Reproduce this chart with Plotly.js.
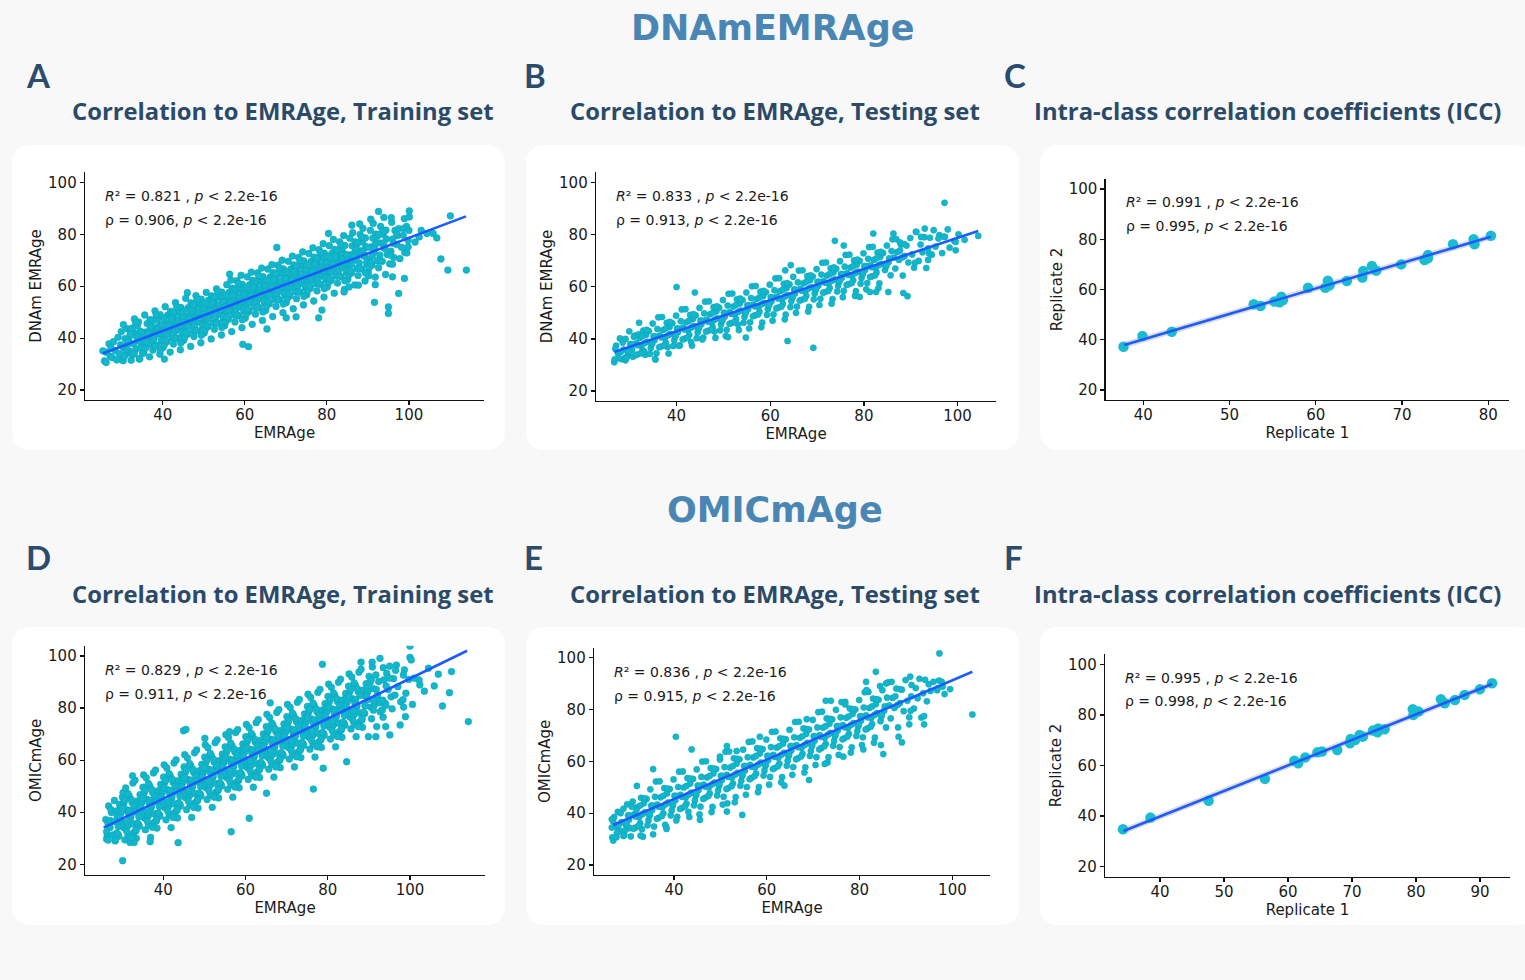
<!DOCTYPE html>
<html><head><meta charset="utf-8">
<script src="https://cdn.plot.ly/plotly-3.0.1.min.js"></script>
<style>html,body{margin:0;padding:0;background:#f8f8f8;}#chart{width:1525px;height:980px;}</style>
</head><body><div id="chart"></div><script>
// ---------------- DATA ----------------
const sectionTitles = ['DNAmEMRAge', 'OMICmAge'];
const panelLetters = ['A', 'B', 'C', 'D', 'E', 'F'];
const panelTitles = ['Correlation to EMRAge, Training set', 'Correlation to EMRAge, Testing set', 'Intra-class correlation coefficients (ICC)',
                     'Correlation to EMRAge, Training set', 'Correlation to EMRAge, Testing set', 'Intra-class correlation coefficients (ICC)'];
const xTitles = ['EMRAge', 'EMRAge', 'Replicate 1', 'EMRAge', 'EMRAge', 'Replicate 1'];
const yTitles = ['DNAm EMRAge', 'DNAm EMRAge', 'Replicate 2', 'OMICmAge', 'OMICmAge', 'Replicate 2'];
const statR2 = ['0.821', '0.833', '0.991', '0.829', '0.836', '0.995'];
const statRho = ['0.906', '0.913', '0.995', '0.911', '0.915', '0.998'];
const statP = '2.2e-16';
const yTicks = [20, 40, 60, 80, 100];
const xTicksAge = [40, 60, 80, 100];
const xTicksC = [40, 50, 60, 70, 80];
const xTicksF = [40, 50, 60, 70, 80, 90];

// Panel A: DNAmEMRAge vs EMRAge, training set  [EMRAge, DNAm EMRAge]
const dnamTrain = [
[25.8,31.2],[26.3,34.5],[26.9,37.8],[27.2,33],[27.4,36.2],
[27.7,32.5],[28,38.6],[28.4,35.2],[28.8,31.6],[29.1,40.3],[29.4,34],[29.7,37.4],[29.9,42.5],
[30.2,31.8],[30.5,36.2],[30.8,39.8],[31,33.9],[31.3,43.6],[31.6,37.9],[31.9,35.1],[32.1,41.4],[32.3,31.5],[30.4,45.2],[31.7,38.9],
[32.6,33.6],[32.9,37.8],[33.2,41.9],[33.5,35.8],[33.8,44.7],[34,39.7],[34.3,31.9],[34.6,42.6],[34.8,36.9],[33.1,47.4],[34.1,46.2],[33.6,40.6],
[35.1,34.2],[35.4,38.4],[35.7,42.3],[35.9,36.5],[36.2,45.6],[36.5,40.1],[36.8,32.8],[37,43.8],[37.3,37.6],[35.6,48.9],[36.9,47.1],[37.4,41.5],[36.1,39.2],
[37.6,35.4],[37.9,39.8],[38.2,43.6],[38.5,37.3],[38.7,47.2],[39,41.6],[39.3,33.8],[39.5,45.1],[39.8,38.9],[38.1,50.5],[39.4,49],[39.9,43],[38.8,44.4],[37.8,41.2],
[40.1,36.4],[40.4,40.9],[40.7,45.3],[41,38.6],[41.2,48.8],[41.5,43.2],[41.8,34.6],[42,46.7],[42.3,40.1],[40.6,52.1],[41.9,50.3],[42.4,44.6],[41.3,42.1],[40.3,47.6],
[42.6,37.7],[42.9,42.4],[43.2,46.8],[43.5,40],[43.7,50.2],[44,44.7],[44.3,35.5],[44.5,48.3],[44.8,41.6],[43.1,53.7],[44.4,51.8],[44.9,46.2],[43.8,43.5],[42.8,49.1],
[45.1,39.2],[45.4,43.8],[45.7,48.3],[46,41.5],[46.2,51.7],[46.5,46.2],[46.8,36.8],[47,49.8],[47.3,43],[45.6,55.3],[46.9,53.6],[47.4,47.6],[46.3,45],[45.3,50.6],[46,57.5],
[47.6,40.6],[47.9,45.3],[48.2,49.8],[48.5,42.9],[48.7,53.2],[49,47.7],[49.3,38.2],[49.5,51.3],[49.8,44.5],[48.1,56.4],[49.4,55],[49.9,49.1],[48.8,46.4],[47.8,52.1],
[50.1,42],[50.4,46.8],[50.7,51.2],[51,44.4],[51.2,54.6],[51.5,49.2],[51.8,39.7],[52,52.8],[52.3,45.9],[50.6,57.6],[51.9,56.3],[52.4,50.6],[51.3,47.9],[50.3,53.5],
[52.6,43.4],[52.9,48.2],[53.2,52.7],[53.5,45.8],[53.7,56.1],[54,50.7],[54.3,41.2],[54.5,54.3],[54.8,47.4],[53.1,59],[54.4,57.7],[54.9,52.1],[53.8,49.3],[52.8,55],
[55.1,44.8],[55.4,49.7],[55.7,54.2],[56,47.3],[56.2,57.6],[56.5,52.2],[56.8,42.5],[57,55.8],[57.3,48.9],[55.6,60.6],[56.9,59.2],[57.4,53.6],[56.3,50.8],[55.3,56.5],[56.6,62.3],
[57.6,46.2],[57.9,51.1],[58.2,55.7],[58.5,48.7],[58.7,59.1],[59,53.7],[59.3,44],[59.5,57.3],[59.8,50.4],[58.1,62.1],[59.4,60.7],[59.9,55.1],[58.8,52.3],[57.8,58],[59.1,64.2],
[60.1,47.7],[60.4,52.6],[60.7,57.2],[61,50.2],[61.2,60.6],[61.5,55.2],[61.8,45.3],[62,58.8],[62.3,51.9],[60.6,63.6],[61.9,62.2],[62.4,56.6],[61.3,53.8],[60.3,59.5],[61.6,65.4],
[62.6,49.2],[62.9,54.1],[63.2,58.7],[63.5,51.7],[63.7,62.1],[64,56.7],[64.3,46.8],[64.5,60.3],[64.8,53.4],[63.1,65.1],[64.4,63.7],[64.9,58.1],[63.8,55.3],[62.8,61],[64.1,67],
[65.1,50.7],[65.4,55.6],[65.7,60.2],[66,53.2],[66.2,63.6],[66.5,58.2],[66.8,48.3],[67,61.8],[67.3,54.9],[65.6,66.6],[66.9,65.2],[67.4,59.6],[66.3,56.8],[65.3,62.5],[66.6,68.3],
[67.6,52.2],[67.9,57.1],[68.2,61.7],[68.5,54.7],[68.7,65.1],[69,59.7],[69.3,49.8],[69.5,63.3],[69.8,56.4],[68.1,68.1],[69.4,66.7],[69.9,61.1],[68.8,58.3],[67.8,64],[69.1,70],
[70.1,53.7],[70.4,58.6],[70.7,63.2],[71,56.2],[71.2,66.6],[71.5,61.2],[71.8,51.3],[72,64.8],[72.3,57.9],[70.6,69.6],[71.9,68.2],[72.4,62.6],[71.3,59.8],[70.3,65.5],[71.6,71.6],
[72.6,55.2],[72.9,60.1],[73.2,64.7],[73.5,57.7],[73.7,68.1],[74,62.7],[74.3,52.8],[74.5,66.3],[74.8,59.4],[73.1,71.1],[74.4,69.7],[74.9,64.1],[73.8,61.3],[72.8,67],[74.1,73.2],
[75.1,56.7],[75.4,61.6],[75.7,66.2],[76,59.2],[76.2,69.6],[76.5,64.2],[76.8,54.3],[77,67.8],[77.3,60.9],[75.6,72.6],[76.9,71.2],[77.4,65.6],[76.3,62.8],[75.3,68.5],[76.6,74.8],
[77.6,58.2],[77.9,63.1],[78.2,67.7],[78.5,60.7],[78.7,71.1],[79,65.7],[79.3,55.8],[79.5,69.3],[79.8,62.4],[78.1,74.1],[79.4,72.7],[79.9,67.1],[78.8,64.3],[77.8,70],[79.1,76.4],
[80.1,59.7],[80.4,64.6],[80.7,69.2],[81,62.2],[81.2,72.6],[81.5,67.2],[81.8,57.3],[82,70.8],[82.3,63.9],[80.6,75.6],[81.9,74.2],[82.4,68.6],[81.3,65.8],[80.3,71.5],[81.6,78],
[82.6,61.2],[82.9,66.1],[83.2,70.7],[83.5,63.7],[83.7,74.1],[84,68.7],[84.3,58.8],[84.5,72.3],[84.8,65.4],[83.1,77.1],[84.4,75.7],[84.9,70.1],[83.8,67.3],[82.8,73],[84.1,79.5],
[85.1,62.6],[85.4,67.5],[85.7,72.1],[86,65.1],[86.2,75.5],[86.5,70.1],[86.8,60.5],[87,73.7],[87.3,66.8],[85.6,78.5],[86.9,77.1],[87.4,71.5],[86.3,80.6],
[87.6,64.1],[87.9,69],[88.2,73.6],[88.5,66.6],[88.7,77],[89,71.6],[89.3,62],[89.5,75.2],[89.8,68.3],[88.1,80],[89.4,78.6],[88.8,82.3],
[90.1,65.6],[90.4,70.5],[90.7,75.1],[91,68.1],[91.2,78.5],[91.5,73.1],[91.8,63.5],[92,76.7],[92.3,69.8],[90.6,81.5],[91.9,80.1],[91.3,84.2],
[92.6,67.1],[92.9,72],[93.2,76.6],[93.5,69.6],[93.7,80],[94,74.6],[94.3,64.5],[94.5,78.2],[93.1,83],[94.4,81.6],[93.9,86.5],
[95.3,68.6],[95.6,73.5],[96,78.1],[96.3,71.1],[96.6,81.5],[97,76.1],[95.8,84.6],[97.2,79.5],
[97.8,70.6],[98.2,75],[98.6,79.6],[99,73],[99.4,83],[99.8,77.6],[98.9,86],
[110.1,87.1],[114,66.2],[109.5,66.2],[107.8,70.5],[106.8,78.6],[104.4,80.3],[105.9,80.3],[97.5,57.2],[98.9,63],[95,52],[95,49.5],[91.6,53.8],
[92.6,88.8],[100.1,89],[100.1,86.7],[95.7,86.4],[90.7,85.8],[86.1,83.5],[88,84],[80.4,80.3],[67.8,74.9],[78,47.8],[78.8,50.8],[60.9,36.7],
[59.5,37.6],[56.3,64.6],[40.4,31.9],[26.2,30.6],[25.4,35.1],[72.5,48.2],[70.1,47.8],[65.4,43.5],[84.2,57.8],[85.4,59.7],[87.7,60.4],[90.2,64],
[91.8,60.6],[96,63.6],[96,68.5],[99.5,72.8],[99.8,75.1],[101.5,77],[97.5,82.2],[98.7,82.2],[100,81.5],[93.6,81],[102.5,79],[103,81.5]
];
// Panel A, additional points in the dense core of the cloud
const dnamTrainCore = [
[30.35,31.3],[31.05,35.6],[31.75,39.8],[32.3,43.2],[30.7,33],[31.45,38.5],[32.1,41.5],[30.15,37],
[33.1,33.9],[33.8,40.6],[34.7,36.2],[32.6,43.9],[34.4,32.1],[33.4,46],[34.1,38.9],[34.9,42],
[35.35,34.3],[36.05,38.6],[36.75,42.8],[37.3,46.2],[35.7,36],[36.45,41.5],[37.1,44.5],[35.15,40],
[38.1,36.9],[38.8,43.6],[39.7,39.2],[37.6,46.9],[39.4,35.1],[38.4,49],[39.1,41.9],[39.9,45],
[40.35,37.3],[41.05,41.6],[41.75,45.8],[42.3,49.2],[40.7,39],[41.45,44.5],[42.1,47.5],[40.15,43],
[43.1,39.9],[43.8,46.6],[44.7,42.2],[42.6,49.9],[44.4,38.1],[43.4,52],[44.1,44.9],[44.9,48],
[45.35,40.3],[46.05,44.6],[46.75,48.8],[47.3,52.2],[45.7,42],[46.45,47.5],[47.1,50.5],[45.15,46],
[48.1,42.9],[48.8,49.6],[49.7,45.2],[47.6,52.9],[49.4,41.1],[48.4,55],[49.1,47.9],[49.9,51],
[50.35,43.3],[51.05,47.6],[51.75,51.8],[52.3,55.2],[50.7,45],[51.45,50.5],[52.1,53.5],[50.15,49],
[53.1,45.9],[53.8,52.6],[54.7,48.2],[52.6,55.9],[54.4,44.1],[53.4,58],[54.1,50.9],[54.9,54],
[55.35,46.3],[56.05,50.6],[56.75,54.8],[57.3,58.2],[55.7,48],[56.45,53.5],[57.1,56.5],[55.15,52],
[58.1,48.9],[58.8,55.6],[59.7,51.2],[57.6,58.9],[59.4,47.1],[58.4,61],[59.1,53.9],[59.9,57],
[60.35,49.3],[61.05,53.6],[61.75,57.8],[62.3,61.2],[60.7,51],[61.45,56.5],[62.1,59.5],[60.15,55],
[63.1,51.9],[63.8,58.6],[64.7,54.2],[62.6,61.9],[64.4,50.1],[63.4,64],[64.1,56.9],[64.9,60],
[65.35,52.3],[66.05,56.6],[66.75,60.8],[67.3,64.2],[65.7,54],[66.45,59.5],[67.1,62.5],[65.15,58],
[68.1,54.9],[68.8,61.6],[69.7,57.2],[67.6,64.9],[69.4,53.1],[68.4,67],[69.1,59.9],[69.9,63],
[70.35,55.3],[71.05,59.6],[71.75,63.8],[72.3,67.2],[70.7,57],[71.45,62.5],[72.1,65.5],[70.15,61],
[73.1,57.9],[73.8,64.6],[74.7,60.2],[72.6,67.9],[74.4,56.1],[73.4,70],[74.1,62.9],[74.9,66],
[75.35,58.3],[76.05,62.6],[76.75,66.8],[77.3,70.2],[75.7,60],[76.45,65.5],[77.1,68.5],[75.15,64],
[78.1,60.9],[78.8,67.6],[79.7,63.2],[77.6,70.9],[79.4,59.1],[78.4,73],[79.1,65.9],[79.9,69],
[80.35,61.3],[81.05,65.6],[81.75,69.8],[82.3,73.2],[80.7,63],[81.45,68.5],[82.1,71.5],[80.15,67],
[83.1,63.9],[83.8,70.6],[84.7,66.2],[82.6,73.9],[84.4,62.1],[83.4,76],[84.1,68.9],[84.9,72],
[85.35,64.3],[86.05,68.6],[86.75,72.8],[87.3,76.2],[85.7,66],[86.45,71.5],[87.1,74.5],[85.15,70],
[88.1,66.9],[88.8,73.6],[89.7,69.2],[87.6,76.9],[89.4,65.1],[88.4,79],[89.1,71.9],[89.9,75],
[90.35,67.3],[91.05,71.6],[91.75,75.8],[92.3,79.2],[90.7,69],[91.45,74.5],
[93.1,69.9],[93.8,76.6],[94.7,72.2],[92.6,79.9],[94.1,74.9],
[95.4,72],[96.2,76.5],[97,80]
];
const dnamTrainFitX = [25.4, 113.9];
const dnamTrainFitY = [34.1, 86.9];

// Panel B: DNAmEMRAge vs EMRAge, testing set
const dnamTest = [
[26.7,31.1],[27.1,37.4],[27.5,34.4],[27.9,40.2],[28.3,32.2],[28.7,35.9],[26.9,36.2],[27.7,32.6],[28.5,38.6],[28.1,35],
[29.1,40],[29.5,33.5],[29.9,42.9],[30.3,36.6],[30.7,33.2],[31.1,41.3],[31.4,38.3],[29.7,34.9],[30.5,35.8],[30.1,38],
[31.7,34.1],[32.1,40.4],[32.5,37.4],[32.9,43.2],[33.3,33.9],[33.7,38.9],[31.9,41.8],[32.7,35.6],[33.5,41.6],[33.1,35.2],
[34.1,43],[34.5,36.5],[34.9,45.9],[35.3,39.6],[35.7,34.5],[36.1,48.3],[36.4,41.3],[34.7,37.9],[35.5,32.1],[35.1,41],
[36.7,37.1],[37.1,43.4],[37.5,40.4],[37.9,46.2],[38.3,34.4],[38.7,41.9],[36.9,48.4],[37.7,38.6],[38.5,44.6],[38.1,36.9],
[39.1,46],[39.5,39.5],[39.9,48.9],[40.3,42.6],[40.7,37.5],[41.1,51.3],[41.4,44.3],[39.7,40.9],[40.5,37.4],[40.1,44],
[41.7,40.1],[42.1,46.4],[42.5,43.4],[42.9,49.2],[43.3,37.4],[43.7,44.9],[41.9,51.4],[42.7,41.6],[43.5,47.6],[43.1,38.8],
[44.1,49],[44.5,42.5],[44.9,51.9],[45.3,45.6],[45.7,40.5],[46.1,54.3],[46.4,47.3],[44.7,43.9],[45.5,39.8],[45.1,47],
[46.7,43.1],[47.1,49.4],[47.5,46.4],[47.9,52.2],[48.3,40.4],[48.7,47.9],[46.9,54.4],[47.7,44.6],[48.5,50.6],[48.1,42.8],
[49.1,52],[49.5,45.5],[49.9,54.9],[50.3,48.6],[50.7,43.5],[51.1,57.3],[51.4,50.3],[49.7,46.9],[50.5,41.1],[50.1,50],
[51.7,46.1],[52.1,52.4],[52.5,49.4],[52.9,55.2],[53.3,43.4],[53.7,50.9],[51.9,57.4],[52.7,47.6],[53.5,53.6],[53.1,45.5],
[54.1,54.9],[54.5,48.4],[54.9,57.8],[55.3,51.5],[55.7,46.4],[56.1,60.2],[56.4,53.2],[54.7,49.8],[55.5,44],[55.1,52.9],
[56.7,49],[57.1,55.3],[57.5,52.3],[57.9,58.1],[58.3,46.3],[58.7,53.8],[56.9,60.3],[57.7,50.5],[58.5,56.5],[58.1,44.5],
[59.1,57.9],[59.5,51.4],[59.9,60.8],[60.3,54.5],[60.7,49.4],[61.1,63.2],[61.4,56.2],[59.7,52.8],[60.5,47],[60.1,55.9],
[61.7,52],[62.1,58.3],[62.5,55.3],[62.9,61.1],[63.3,49.3],[63.7,56.8],[61.9,63.3],[62.7,53.5],[63.5,59.5],[63.1,47.5],
[64.1,60.9],[64.5,54.4],[64.9,63.8],[65.3,57.5],[65.7,52.4],[66.1,66.2],[66.4,59.2],[64.7,55.8],[65.5,50],[65.1,58.9],
[66.7,55],[67.1,61.3],[67.5,58.3],[67.9,64.1],[68.3,52.3],[68.7,59.8],[66.9,66.3],[67.7,56.5],[68.5,62.5],[68.1,50.5],
[69.1,63.9],[69.5,57.4],[69.9,66.8],[70.3,60.5],[70.7,55.4],[71.1,69.2],[71.4,62.2],[69.7,58.8],[70.5,53],[70.1,61.9],
[71.7,58],[72.1,64.3],[72.5,61.3],[72.9,67.1],[73.3,55.3],[73.7,62.8],[71.9,69.3],[72.7,59.5],[73.5,65.5],[73.1,53.5],
[74.1,66.9],[74.5,60.4],[74.9,69.8],[75.3,63.5],[75.7,58.4],[76.1,72.2],[76.4,65.2],[74.7,61.8],[75.5,56],[75.1,64.9],
[76.7,61],[77.1,67.3],[77.5,64.3],[77.9,70.1],[78.3,58.3],[78.7,65.8],[76.9,72.3],[77.7,62.5],[78.5,68.5],[78.1,56.5],
[79.1,69.9],[79.5,63.4],[79.9,72.8],[80.3,66.5],[80.7,61.4],[81.1,75.2],[81.4,68.2],[79.7,64.8],[80.5,59],[80.1,67.9],
[81.7,64],[82.1,70.3],[82.5,67.3],[82.9,73.1],[83.3,61.3],[83.7,68.8],[81.9,75.3],[82.7,65.5],[83.5,71.5],[83.1,59.5],
[84.1,72.9],[84.5,66.4],[84.9,75.8],[85.3,69.5],[85.7,64.4],[86.1,78.2],[86.4,71.2],[84.7,67.8],
[86.7,67],[87.1,73.3],[87.5,70.3],[87.9,76.1],[88.3,64.3],[88.7,71.8],[86.9,78.3],
[89.1,75.8],[89.5,69.3],[89.9,78.7],[90.3,72.4],[90.7,67.3],[91.1,81.1],
[91.7,69.9],[92.1,76.2],[92.5,73.2],[92.9,79],[93.3,67.2],[93.7,74.7],
[94.1,78.8],[94.5,72.3],[94.9,81.7],[95.3,75.4],[96.1,79.8],
[96.7,72.9],[97.1,79.2],[97.9,82],[98.3,75],[99.3,77.5],[100.2,80.1],[101.5,78],
[97.2,92.2],[69.2,36.6],[63.7,39.2],[40,59.9],[43.9,57.8],[93,82.3],[99.6,74],[99.6,77.2],[104.4,79.5],[89.3,56.4],[88.4,57.6],[85.2,58],
[79.1,56.1],[81.3,58],[82.6,58],[73.8,77.6],[75.7,75.8],[51,40.7],[54.8,40.5],[32,46.2],[26.8,32.2],[29.1,31.8],[29,32.7],[35.4,32.4],
[93.7,70.3],[93.9,72.8],[90.9,69.2],[87.7,77],[82,80.4],[86.3,80.4],[91.2,81],[92.2,79.1],[64.4,68.3],[63.2,66.3],[95.9,78.5],[97.3,79.1]
];
const dnamTestCore = [
[29.8,35.2],[30.9,40.8],[29.3,32.6],[30.4,38],[31.3,33.8],
[32.7,41],[31.7,37.6],[33.6,43.5],[32.4,34.5],[33.2,38.4],
[34.8,38.2],[35.9,43.8],[34.3,34.3],[35.4,41],[36.3,36.8],
[37.7,44],[36.7,40.6],[38.6,46.5],[37.4,37.5],[38.2,41.4],
[39.8,41.2],[40.9,46.8],[39.3,37.3],[40.4,44],[41.3,39.8],
[42.7,47],[41.7,43.6],[43.6,49.5],[42.4,40.5],[43.2,44.4],
[44.8,44.2],[45.9,49.8],[44.3,40.3],[45.4,47],[46.3,42.8],
[47.7,50],[46.7,46.6],[48.6,52.5],[47.4,43.5],[48.2,47.4],
[49.8,47.2],[50.9,52.8],[49.3,43.3],[50.4,50],[51.3,45.8],
[52.7,53],[51.7,49.6],[53.6,55.5],[52.4,46.5],[53.2,50.4],
[54.8,50.1],[55.9,55.7],[54.3,46.2],[55.4,52.9],[56.3,48.7],
[57.7,55.9],[56.7,52.5],[58.6,58.4],[57.4,49.4],[58.2,53.3],
[59.8,53.1],[60.9,58.7],[59.3,49.2],[60.4,55.9],[61.3,51.7],
[62.7,58.9],[61.7,55.5],[63.6,61.4],[62.4,52.4],[63.2,56.3],
[64.8,56.1],[65.9,61.7],[64.3,52.2],[65.4,58.9],[66.3,54.7],
[67.7,61.9],[66.7,58.5],[68.6,64.4],[67.4,55.4],[68.2,59.3],
[69.8,59.1],[70.9,64.7],[69.3,55.2],[70.4,61.9],[71.3,57.7],
[72.7,64.9],[71.7,61.5],[73.6,67.4],[72.4,58.4],[73.2,62.3],
[74.8,62.1],[75.9,67.7],[74.3,58.2],[75.4,64.9],[76.3,60.7],
[77.7,67.9],[76.7,64.5],[78.6,70.4],[77.4,61.4],[78.2,65.3],
[79.8,65.1],[80.9,70.7],[79.3,61.2],[80.4,67.9],[81.3,63.7],
[82.7,70.9],[81.7,67.5],[83.6,73.4],[82.4,64.4],[83.2,68.3],
[84.8,68.1],[85.9,73.7],[85.4,70.9],
[87.7,73.9],[88.6,76.4],[88.2,71.3]
];
const dnamTestFitX = [26.7, 104.4];
const dnamTestFitY = [35.0, 81.4];

// Panel C: DNAmEMRAge replicates
const dnamICC = [
[37.7,37.2],[39.9,41.5],[43.3,43.2],[52.8,54.1],[53.6,53.4],[55.2,55.2],[55.8,54.9],[56,57.1],[56.2,55.8],[59.1,60.7],[61.1,60.7],[61.4,63.5],[61.6,61.7],
[63.6,63.4],[65.4,64.8],[65.5,67.4],[66.5,69.4],[67,67.5],[69.9,70],[72.6,71.7],[73,73.7],[73,72.4],[75.9,78],[78.3,80],[78.4,78],[80.3,81.4]
];
const dnamICCFitX = [37.8, 80.3];
const dnamICCFitY = [37.9, 81.0];

// Panel D: OMICmAge vs EMRAge, training set
const omicTrain = [
[26,37.2],[26.35,30.9],[26.7,42.4],[27.05,34.1],[27.4,39.9],[27.75,31.3],[26.2,32.5],[26.55,35.7],[27.25,41],[27.1,36.8],
[28.3,29],[28.65,40.5],[29,31.5],[29.35,43],[29.7,36.8],[30.05,45.8],[30.4,34],[28.1,44.5],[28.8,38.5],[29.15,30.8],[29.5,41],[29.85,35.2],[30.2,47.5],
[30.65,29.4],[31,41],[31.35,34.7],[31.7,46.2],[32.05,37.9],[32.4,43.7],[32.75,32.1],[30.85,49.3],[31.2,36.3],[31.55,39.5],[31.9,28.4],[32.25,44.8],[32.6,51.2],[31.45,31.2],
[33.3,32.8],[33.65,44.3],[34,35.3],[34.35,46.8],[34.7,40.6],[35.05,49.6],[35.4,37.8],[33.1,52.3],[33.45,30],[33.8,42.3],[34.15,34.6],[34.5,44.8],[34.85,39],[35.2,54.3],
[35.65,33.3],[36,44.9],[36.35,38.6],[36.7,50.1],[37.05,41.8],[37.4,47.6],[37.75,36],[35.85,53.2],[36.2,40.2],[36.55,43.4],[36.9,30.3],[37.25,48.7],[37.6,55.1],[36.45,35.1],
[38.3,36.7],[38.65,48.2],[39,39.2],[39.35,50.7],[39.7,44.5],[40.05,53.5],[40.4,41.7],[38.1,56.2],[38.45,33.9],[38.8,46.2],[39.15,38.5],[39.5,48.7],[39.85,42.9],[40.2,58.2],
[40.65,37.1],[41,48.7],[41.35,42.4],[41.7,53.9],[42.05,45.6],[42.4,51.4],[42.75,39.8],[40.85,57],[41.2,44],[41.55,47.2],[41.9,34.1],[42.25,52.5],[42.6,58.9],[41.45,38.9],
[43.3,40.6],[43.65,52.1],[44,43.1],[44.35,54.6],[44.7,48.4],[45.05,57.4],[45.4,45.6],[43.1,60.1],[43.45,37.8],[43.8,50.1],[44.15,42.4],[44.5,52.6],[44.85,46.8],[45.2,62.1],
[45.65,41],[46,52.6],[46.35,46.3],[46.7,57.8],[47.05,49.5],[47.4,55.3],[47.75,43.7],[45.85,60.9],[46.2,47.9],[46.55,51.1],[46.9,38],[47.25,56.4],[47.6,62.8],[46.45,42.8],
[48.3,44.4],[48.65,55.9],[49,46.9],[49.35,58.4],[49.7,52.2],[50.05,61.2],[50.4,49.4],[48.1,63.9],[48.45,41.6],[48.8,53.9],[49.15,46.2],[49.5,56.4],[49.85,50.6],[50.2,65.9],
[50.65,44.9],[51,56.5],[51.35,50.2],[51.7,61.7],[52.05,53.4],[52.4,59.2],[52.75,47.6],[50.85,64.8],[51.2,51.8],[51.55,55],[51.9,41.9],[52.25,60.3],[52.6,66.7],[51.45,46.7],
[53.3,48.3],[53.65,59.8],[54,50.8],[54.35,62.3],[54.7,56.1],[55.05,65.1],[55.4,53.3],[53.1,67.8],[53.45,45.5],[53.8,57.8],[54.15,50.1],[54.5,60.3],[54.85,54.5],[55.2,69.8],
[55.65,48.8],[56,60.4],[56.35,54.1],[56.7,65.6],[57.05,57.3],[57.4,63.1],[57.75,51.5],[55.85,68.7],[56.2,55.7],[56.55,58.9],[56.9,45.8],[57.25,64.2],[57.6,70.6],[56.45,50.6],
[58.3,52.2],[58.65,63.7],[59,54.7],[59.35,66.2],[59.7,60],[60.05,69],[60.4,57.2],[58.1,71.7],[58.45,49.4],[58.8,61.7],[59.15,54],[59.5,64.2],[59.85,58.4],[60.2,73.7],
[60.65,52.6],[61,64.2],[61.35,57.9],[61.7,69.4],[62.05,61.1],[62.4,66.9],[62.75,55.3],[60.85,72.5],[61.2,59.5],[61.55,62.7],[61.9,49.6],[62.25,68],[62.6,74.4],[61.45,54.4],
[63.3,56.1],[63.65,67.6],[64,58.6],[64.35,70.1],[64.7,63.9],[65.05,72.9],[65.4,61.1],[63.1,75.6],[63.45,53.3],[63.8,65.6],[64.15,57.9],[64.5,68.1],[64.85,62.3],[65.2,77.6],
[65.65,56.5],[66,68.1],[66.35,61.8],[66.7,73.3],[67.05,65],[67.4,70.8],[67.75,59.2],[65.85,76.4],[66.2,63.4],[66.55,66.6],[66.9,53.5],[67.25,71.9],[67.6,78.3],[66.45,58.3],
[68.3,59.9],[68.65,71.4],[69,62.4],[69.35,73.9],[69.7,67.7],[70.05,76.7],[70.4,64.9],[68.1,79.4],[68.45,57.1],[68.8,69.4],[69.15,61.7],[69.5,71.9],[69.85,66.1],[70.2,81.4],
[70.65,60.4],[71,72],[71.35,65.7],[71.7,77.2],[72.05,68.9],[72.4,74.7],[72.75,63.1],[70.85,80.3],[71.2,67.3],[71.55,70.5],[71.9,57.4],[72.25,75.8],[72.6,82.2],[71.45,62.2],
[73.3,63.8],[73.65,75.3],[74,66.3],[74.35,77.8],[74.7,71.6],[75.05,80.6],[75.4,68.8],[73.1,83.3],[73.45,61],[73.8,73.3],[74.15,65.6],[74.5,75.8],[74.85,70],[75.2,85.3],
[75.65,64.2],[76,75.8],[76.35,69.5],[76.7,81],[77.05,72.7],[77.4,78.5],[77.75,66.9],[75.85,84.1],[76.2,71.1],[76.55,74.3],[76.9,61.2],[77.25,79.6],[77.6,86],[76.45,66],
[78.3,67.7],[78.65,79.2],[79,70.2],[79.35,81.7],[79.7,75.5],[80.05,84.5],[80.4,72.7],[78.1,87.2],[78.45,64.9],[78.8,77.2],[79.15,69.5],[79.5,79.7],[79.85,73.9],[80.2,89.2],
[80.65,68.1],[81,79.7],[81.35,73.4],[81.7,84.9],[82.05,76.6],[82.4,82.4],[82.75,70.8],[80.85,88],[81.2,75],[81.55,78.2],[81.9,65.1],[82.25,83.5],[82.6,89.9],[81.45,69.9],
[83.3,71.6],[83.65,83.1],[84,74.1],[84.35,85.6],[84.7,79.4],[85.05,88.4],[85.4,76.6],[83.1,91.1],[83.45,68.8],[83.8,81.1],[84.15,73.4],[84.5,83.6],[84.85,77.8],[85.2,93.1],
[85.65,72],[86,83.6],[86.35,77.3],[86.7,88.8],[87.05,80.5],[87.4,86.3],[87.75,74.7],[85.85,91.9],[86.2,78.9],[86.55,82.1],[86.9,69],[87.25,87.4],[87.6,93.8],[86.45,73.8],
[88.3,75.4],[88.65,86.9],[89,77.9],[89.35,89.4],[89.7,83.2],[90.05,92.2],[90.4,80.4],[88.1,94.9],[88.45,72.6],[88.8,84.9],[89.5,87.4],
[90.65,75.9],[91,87.5],[91.35,81.2],[91.7,92.7],[92.05,84.4],[92.4,90.2],[92.75,78.6],[90.85,95.8],[91.2,82.8],[91.9,72.9],
[93.3,79.3],[93.65,90.8],[94,81.8],[94.35,93.3],[94.7,87.1],[95.05,96.1],[95.4,84.3],[93.45,76.5],[94.15,81.1],
[95.65,79.7],[96,91.3],[96.35,85],[96.7,96.5],[97.05,88.2],[97.75,82.4],
[98.3,83.2],[98.65,94.7],[99,85.7],[99.7,91],[98.45,80.4],
[30.1,21.4],[43.6,28.3],[56.5,32.5],[60.9,37.7],[32.9,28.4],[36.8,28.7],[26.2,29.7],[26.6,29.3],[76.5,48.9],[78.9,56.9],[84.6,59.4],[65.1,47.3],
[114.2,74.8],[109.6,85.9],[107.9,80.8],[110.1,94],[106.9,93],[105.9,88.5],[100,103.8],[100,99.5],[100.3,98.5],[92.7,99.1],[90.8,97.6],[88.1,97.6],
[78.7,96.8],[100.6,81.4],[98.9,76.7],[97.6,73.5],[95.1,69.7],[94.1,72.9],[91.7,69],[89.9,69],[44.9,71.3],[45.5,71.8],[56.1,70.9],[50.1,68.4],
[32.5,54],[30.3,43.4],[66,82],[102.4,88.9],[102.2,90.8],[104.5,95.3],[98.4,92.7],[96.5,94.5],[93.5,95.5],[101,91.5],[103.5,86.5]
];
const omicTrainCore = [
[28.35,29.5],[29.05,34.5],[29.75,39.8],[30.3,43.5],[28.7,32],[29.45,38.2],[30.1,41.6],[28.15,36.4],
[31.1,32.7],[31.8,40.7],[32.7,35.5],[30.6,44.5],[32.4,30.3],[31.4,47.1],[32.1,38.6],[32.9,42.3],
[33.35,33.3],[34.05,38.3],[34.75,43.6],[35.3,47.3],[33.7,35.8],[34.45,42],[35.1,45.4],[33.15,40.2],
[36.1,36.6],[36.8,44.6],[37.7,39.4],[35.6,48.4],[37.4,34.2],[36.4,51],[37.1,42.5],[37.9,46.2],
[38.35,37.2],[39.05,42.2],[39.75,47.5],[40.3,51.2],[38.7,39.7],[39.45,45.9],[40.1,49.3],[38.15,44.1],
[41.1,40.4],[41.8,48.4],[42.7,43.2],[40.6,52.2],[42.4,38],[41.4,54.8],[42.1,46.3],[42.9,50],
[43.35,41.1],[44.05,46.1],[44.75,51.4],[45.3,55.1],[43.7,43.6],[44.45,49.8],[45.1,53.2],[43.15,48],
[46.1,44.3],[46.8,52.3],[47.7,47.1],[45.6,56.1],[47.4,41.9],[46.4,58.7],[47.1,50.2],[47.9,53.9],
[48.35,44.9],[49.05,49.9],[49.75,55.2],[50.3,58.9],[48.7,47.4],[49.45,53.6],[50.1,57],[48.15,51.8],
[51.1,48.2],[51.8,56.2],[52.7,51],[50.6,60],[52.4,45.8],[51.4,62.6],[52.1,54.1],[52.9,57.8],
[53.35,48.8],[54.05,53.8],[54.75,59.1],[55.3,62.8],[53.7,51.3],[54.45,57.5],[55.1,60.9],[53.15,55.7],
[56.1,52.1],[56.8,60.1],[57.7,54.9],[55.6,63.9],[57.4,49.7],[56.4,66.5],[57.1,58],[57.9,61.7],
[58.35,52.7],[59.05,57.7],[59.75,63],[60.3,66.7],[58.7,55.2],[59.45,61.4],[60.1,64.8],[58.15,59.6],
[61.1,55.9],[61.8,63.9],[62.7,58.7],[60.6,67.7],[62.4,53.5],[61.4,70.3],[62.1,61.8],[62.9,65.5],
[63.35,56.6],[64.05,61.6],[64.75,66.9],[65.3,70.6],[63.7,59.1],[64.45,65.3],[65.1,68.7],[63.15,63.5],
[66.1,59.8],[66.8,67.8],[67.7,62.6],[65.6,71.6],[67.4,57.4],[66.4,74.2],[67.1,65.7],[67.9,69.4],
[68.35,60.4],[69.05,65.4],[69.75,70.7],[70.3,74.4],[68.7,62.9],[69.45,69.1],[70.1,72.5],[68.15,67.3],
[71.1,63.7],[71.8,71.7],[72.7,66.5],[70.6,75.5],[72.4,61.3],[71.4,78.1],[72.1,69.6],[72.9,73.3],
[73.35,64.3],[74.05,69.3],[74.75,74.6],[75.3,78.3],[73.7,66.8],[74.45,73],[75.1,76.4],[73.15,71.2],
[76.1,67.5],[76.8,75.5],[77.7,70.3],[75.6,79.3],[77.4,65.1],[76.4,81.9],[77.1,73.4],[77.9,77.1],
[78.35,68.2],[79.05,73.2],[79.75,78.5],[80.3,82.2],[78.7,70.7],[79.45,76.9],[80.1,80.3],[78.15,75.1],
[81.1,71.4],[81.8,79.4],[82.7,74.2],[80.6,83.2],[82.4,69],[81.4,85.8],[82.1,77.3],[82.9,81],
[83.35,72.1],[84.05,77.1],[84.75,82.4],[85.3,86.1],[83.7,74.6],[84.45,80.8],[85.1,84.2],[83.15,79],
[86.1,75.3],[86.8,83.3],[87.7,78.1],[85.6,87.1],[87.4,72.9],[86.4,89.7],[87.1,81.2],[87.9,84.9],
[88.35,75.9],[89.05,80.9],[89.75,86.2],[90.3,89.9],[88.7,78.4],[89.45,84.6],
[91.1,79.2],[91.8,87.2],[92.7,82],[90.6,91],[92.1,85.1],
[93.4,83],[94.2,88.5],[95,91.5]
];
const omicTrainFitX = [25.5, 113.9];
const omicTrainFitY = [34.1, 102.0];

// Panel E: OMICmAge vs EMRAge, testing set
const omicTest = [
[26.7,30.6],[27.1,38.5],[27.5,34.6],[27.9,40.5],[28.3,33.2],[28.7,36.5],[26.9,36.8],[27.7,32.3],[28.5,40],[28.1,35.4],
[29.1,41.7],[29.5,33.4],[29.9,43.4],[30.3,37.4],[30.7,31],[31.1,44.5],[31.4,39.5],[29.7,35.2],[30.5,34.2],[30.1,39.1],
[31.7,34.4],[32.1,42.3],[32.5,38.4],[32.9,45.9],[33.3,30.9],[33.7,40.3],[31.9,41.2],[32.7,36.1],[33.5,43.8],[33.1,33.8],
[34.1,45.5],[34.5,37.2],[34.9,49.2],[35.3,41.2],[35.7,34.8],[36.1,52.2],[36.4,43.3],[34.7,39],[35.5,31.8],[35.1,42.9],
[36.7,38.2],[37.1,46.1],[37.5,42.2],[37.9,49.7],[38.3,34.7],[38.7,44.1],[36.9,52.3],[37.7,39.9],[38.5,47.6],[38.1,35.5],
[39.1,49.3],[39.5,41],[39.9,53],[40.3,45],[40.7,38.6],[41.1,56],[41.4,47.1],[39.7,42.8],[40.5,37.2],[40.1,46.7],
[41.7,42],[42.1,49.9],[42.5,46],[42.9,53.5],[43.3,38.5],[43.7,47.9],[41.9,56.1],[42.7,43.7],[43.5,51.4],[43.1,40.5],
[44.1,53.2],[44.5,44.9],[44.9,56.9],[45.3,48.9],[45.7,42.5],[46.1,59.9],[46.4,51],[44.7,46.7],[45.5,39.5],[45.1,50.6],
[46.7,45.9],[47.1,53.8],[47.5,49.9],[47.9,57.4],[48.3,42.4],[48.7,51.8],[46.9,60],[47.7,47.6],[48.5,55.3],[48.1,40.4],
[49.1,57],[49.5,48.7],[49.9,60.7],[50.3,52.7],[50.7,46.3],[51.1,63.7],[51.4,54.8],[49.7,50.5],[50.5,43.3],[50.1,54.4],
[51.7,49.7],[52.1,57.6],[52.5,53.7],[52.9,61.2],[53.3,46.2],[53.7,55.6],[51.9,63.8],[52.7,51.4],[53.5,59.1],[53.1,44.2],
[54.1,60.8],[54.5,52.5],[54.9,64.5],[55.3,56.5],[55.7,50.1],[56.1,67.5],[56.4,58.6],[54.7,54.3],[55.5,47.1],[55.1,58.2],
[56.7,53.6],[57.1,61.5],[57.5,57.6],[57.9,65.1],[58.3,50.1],[58.7,59.5],[56.9,67.7],[57.7,55.3],[58.5,63],[58.1,48.1],
[59.1,64.7],[59.5,56.4],[59.9,68.4],[60.3,60.4],[60.7,54],[61.1,71.4],[61.4,62.5],[59.7,58.2],[60.5,51],[60.1,62.1],
[61.7,57.4],[62.1,65.3],[62.5,61.4],[62.9,68.9],[63.3,53.9],[63.7,63.3],[61.9,71.5],[62.7,59.1],[63.5,66.8],[63.1,51.9],
[64.1,68.5],[64.5,60.2],[64.9,72.2],[65.3,64.2],[65.7,57.8],[66.1,75.2],[66.4,66.3],[64.7,62],[65.5,54.8],[65.1,65.9],
[66.7,61.2],[67.1,69.1],[67.5,65.2],[67.9,72.7],[68.3,57.7],[68.7,67.1],[66.9,75.3],[67.7,62.9],[68.5,70.6],[68.1,55.7],
[69.1,72.3],[69.5,64],[69.9,76],[70.3,68],[70.7,61.6],[71.1,79],[71.4,70.1],[69.7,65.8],[70.5,58.6],[70.1,69.7],
[71.7,65.1],[72.1,73],[72.5,69.1],[72.9,76.6],[73.3,61.6],[73.7,71],[71.9,79.2],[72.7,66.8],[73.5,74.5],[73.1,59.6],
[74.1,76.2],[74.5,67.9],[74.9,79.9],[75.3,71.9],[75.7,65.5],[76.1,82.9],[76.4,74],[74.7,69.7],[75.5,62.5],[75.1,73.6],
[76.7,68.9],[77.1,76.8],[77.5,72.9],[77.9,80.4],[78.3,65.4],[78.7,74.8],[76.9,83],[77.7,70.6],[78.5,78.3],[78.1,63.4],
[79.1,80],[79.5,71.7],[79.9,83.7],[80.3,75.7],[80.7,69.3],[81.1,86.7],[81.4,77.8],[79.7,73.5],[80.5,66.3],[80.1,77.4],
[81.7,72.7],[82.1,80.6],[82.5,76.7],[82.9,84.2],[83.3,69.2],[83.7,78.6],[81.9,86.8],[82.7,74.4],[83.5,82.1],[83.1,67.2],
[84.1,83.8],[84.5,75.5],[84.9,87.5],[85.3,79.5],[85.7,73.1],[86.1,90.5],[86.4,81.6],[84.7,77.3],
[86.7,76.6],[87.1,84.5],[87.5,80.6],[87.9,88.1],[88.3,73.1],[88.7,82.5],[86.9,90.7],
[89.1,87.7],[89.5,79.4],[89.9,91.4],[90.3,83.4],[90.7,77],[91.1,85.1],
[91.7,80.4],[92.1,88.3],[92.5,84.4],[92.9,91.9],[93.3,76.9],[93.7,86.3],
[94.1,91.5],[94.5,83.2],[94.9,89.8],[95.3,87.2],[96.7,87.5],[97.1,91.2],[97.9,88.9],[98.3,86],
[97.2,101.7],[104.3,78.1],[83.5,94.6],[81.4,90.7],[81.5,87.5],[90.9,92.7],[91.2,89.5],[99.5,87.9],[93.9,77.5],[93.9,74.3],[90.7,74.3],[91,79.5],
[89.1,67.3],[88.4,69.5],[85.1,62.8],[84.6,66.3],[80.8,64.6],[76.5,61.8],[72.5,59],[69.1,52.8],[63.8,50.6],[54.7,39.3],[51.4,40.6],[51.5,43.8],
[45.6,37.4],[38.4,33.9],[40.4,69.5],[35.5,57],[32,50.5],[26.9,29.4],[27.6,30.7],[29.1,31.2],[32.8,31.3],[26.6,37.6],[26.6,34.4],[43.8,64.6],
[51.4,65.9],[53.5,64],[49.9,61.8],[58.5,69.5],[84.4,89.1],[85.7,90.1],[72.7,83.4],[73.8,83.4],[76.9,82],[68.6,76.3],[97.7,90.7],[95.9,90.7],[96.8,88.2]
];
const omicTestCore = [
[29.8,35.7],[30.9,42.5],[29.3,31.5],[30.4,39.1],[31.3,34],
[32.7,42.9],[31.7,38.7],[33.6,45.7],[32.4,35.1],[33.2,39.6],
[34.8,39.5],[35.9,46.3],[34.3,35.3],[35.4,42.9],[36.3,37.8],
[37.7,46.7],[36.7,42.5],[38.6,49.5],[37.4,38.9],[38.2,43.4],
[39.8,43.3],[40.9,50.1],[39.3,39.1],[40.4,46.7],[41.3,41.6],
[42.7,50.5],[41.7,46.3],[43.6,53.3],[42.4,42.7],[43.2,47.2],
[44.8,47.2],[45.9,54],[44.3,43],[45.4,50.6],[46.3,45.5],
[47.7,54.4],[46.7,50.2],[48.6,57.2],[47.4,46.6],[48.2,51.1],
[49.8,51],[50.9,57.8],[49.3,46.8],[50.4,54.4],[51.3,49.3],
[52.7,58.2],[51.7,54],[53.6,61],[52.4,50.4],[53.2,54.9],
[54.8,54.8],[55.9,61.6],[54.3,50.6],[55.4,58.2],[56.3,53.1],
[57.7,62.1],[56.7,57.9],[58.6,64.9],[57.4,54.3],[58.2,58.8],
[59.8,58.7],[60.9,65.5],[59.3,54.5],[60.4,62.1],[61.3,57],
[62.7,65.9],[61.7,61.7],[63.6,68.7],[62.4,58.1],[63.2,62.6],
[64.8,62.5],[65.9,69.3],[64.3,58.3],[65.4,65.9],[66.3,60.8],
[67.7,69.7],[66.7,65.5],[68.6,72.5],[67.4,61.9],[68.2,66.4],
[69.8,66.3],[70.9,73.1],[69.3,62.1],[70.4,69.7],[71.3,64.6],
[72.7,73.6],[71.7,69.4],[73.6,76.4],[72.4,65.8],[73.2,70.3],
[74.8,70.2],[75.9,77],[74.3,66],[75.4,73.6],[76.3,68.5],
[77.7,77.4],[76.7,73.2],[78.6,80.2],[77.4,69.6],[78.2,74.1],
[79.8,74],[80.9,80.8],[79.3,69.8],[80.4,77.4],[81.3,72.3],
[82.7,81.2],[81.7,77],[83.6,84],[82.4,73.4],[83.2,77.9],
[84.8,77.8],[85.9,84.6],[85.4,81.2],
[87.7,85.1],[88.6,87.9],[88.2,81.8]
];
const omicTestFitX = [26.9, 104.3];
const omicTestFitY = [35.4, 94.6];

// Panel F: OMICmAge replicates
const omicICC = [
[34.2,34.8],[38.5,39.4],[47.6,46.1],[56.4,54.7],[61,61.9],[61.6,60.9],[62.7,63.2],[64.6,65.2],[65.3,65.5],[67.7,66.1],[69.7,68.8],[69.8,70.5],[70.5,70.1],
[71.2,72.1],[71.7,71.4],[73.3,73.8],[74.1,74.6],[74,73.1],[75.1,74.3],[79.5,82.2],[79.6,80],[80.4,81.3],[83.9,86.2],[84.5,84.6],[86.1,85.9],[87.6,87.9],[90,90.1],[91.9,92.5]
];
const omicICCFitX = [34.3, 91.9];
const omicICCFitY = [34.1, 92.2];

// ---------------- LAYOUT / DRAWING ----------------
const W = 1525, H = 980;
const px = v => v / W, py = v => 1 - v / H;

const panels = [
  {pts: dnamTrain.concat(dnamTrainCore), fx: dnamTrainFitX, fy: dnamTrainFitY, box: [85, 484, 172, 400], xr: [21.05, 118.3], yr: [16.15, 104], xt: xTicksAge, big: false, ms: 6.8},
  {pts: dnamTest.concat(dnamTestCore), fx: dnamTestFitX, fy: dnamTestFitY, box: [596, 996, 172, 401], xr: [22.8, 108.2], yr: [16.2, 104], xt: xTicksAge, big: false, ms: 6.2},
  {pts: dnamICC, fx: dnamICCFitX, fy: dnamICCFitY, box: [1105.7, 1509, 179, 400], xr: [35.64, 82.4], yr: [16, 104], xt: xTicksC, big: true, ms: 10.5},
  {pts: omicTrain.concat(omicTrainCore), fx: omicTrainFitX, fy: omicTrainFitY, box: [85, 485, 645.7, 875], xr: [20.95, 118.25], yr: [15.9, 103.95], xt: xTicksAge, big: false, ms: 6.8},
  {pts: omicTest.concat(omicTestCore), fx: omicTestFitX, fy: omicTestFitY, box: [594, 990, 647.7, 875], xr: [22.76, 108.1], yr: [16.1, 103.9], xt: xTicksAge, big: false, ms: 6.2},
  {pts: omicICC, fx: omicICCFitX, fy: omicICCFitY, box: [1105, 1510, 654.3, 876.7], xr: [31.4, 94.7], yr: [16.05, 103.95], xt: xTicksF, big: true, ms: 10.5}
];

const traces = [];
const layout = {
  width: W, height: H,
  margin: {l: 0, r: 0, t: 0, b: 0},
  paper_bgcolor: '#f8f8f8',
  plot_bgcolor: 'rgba(0,0,0,0)',
  showlegend: false,
  font: {family: 'DejaVu Sans, sans-serif', size: 15, color: '#1a1a1a'},
  annotations: [],
  shapes: []
};

function roundRect(x0, y0, x1, y1, r) {
  const X = v => px(v).toFixed(5), Y = v => py(v).toFixed(5);
  return 'M' + X(x0 + r) + ',' + Y(y0) + ' L' + X(x1 - r) + ',' + Y(y0) +
    ' Q' + X(x1) + ',' + Y(y0) + ' ' + X(x1) + ',' + Y(y0 + r) +
    ' L' + X(x1) + ',' + Y(y1 - r) +
    ' Q' + X(x1) + ',' + Y(y1) + ' ' + X(x1 - r) + ',' + Y(y1) +
    ' L' + X(x0 + r) + ',' + Y(y1) +
    ' Q' + X(x0) + ',' + Y(y1) + ' ' + X(x0) + ',' + Y(y1 - r) +
    ' L' + X(x0) + ',' + Y(y0 + r) +
    ' Q' + X(x0) + ',' + Y(y0) + ' ' + X(x0 + r) + ',' + Y(y0) + ' Z';
}
const cards = [[12, 145, 505, 450], [526, 145, 1019, 450], [1040, 145, 1535, 450],
               [12, 627, 505, 925], [526, 627, 1019, 925], [1040, 627, 1535, 925]];
cards.forEach(c => layout.shapes.push({type: 'path', xref: 'paper', yref: 'paper', path: roundRect(c[0], c[1], c[2], c[3], 20),
  fillcolor: '#ffffff', line: {width: 0}, layer: 'below'}));

panels.forEach((p, i) => {
  const n = i + 1, s = n === 1 ? '' : String(n);
  const xa = 'x' + s, ya = 'y' + s;
  if (p.big) {
    traces.push({type: 'scatter', mode: 'lines', x: p.fx, y: p.fy, xaxis: xa, yaxis: ya,
      line: {color: 'rgba(150,150,150,0.35)', width: 6}, hoverinfo: 'skip'});
  }
  traces.push({type: 'scatter', mode: 'markers', x: p.pts.map(d => d[0]), y: p.pts.map(d => d[1]), xaxis: xa, yaxis: ya,
    marker: p.big ? {size: p.ms, color: '#1cbcd0', line: {width: 0}}
                  : {size: p.ms, color: '#12b7cc', line: {color: '#0aa3b8', width: 0.5}}});
  traces.push({type: 'scatter', mode: 'lines', x: p.fx, y: p.fy, xaxis: xa, yaxis: ya,
    line: {color: '#1c5cff', width: 2.6}});
  const common = {showgrid: false, zeroline: false, showline: true, linecolor: '#111', linewidth: 1.3,
    ticks: 'outside', ticklen: 4, tickwidth: 1.2, tickcolor: '#111', tickfont: {size: 15, color: '#1a1a1a'}};
  layout['xaxis' + s] = Object.assign({}, common, {domain: [px(p.box[0]), px(p.box[1])], range: p.xr, anchor: ya,
    tickvals: p.xt, ticklabelstandoff: -3, title: {text: xTitles[i], font: {size: 15}, standoff: 4}});
  layout['yaxis' + s] = Object.assign({}, common, {domain: [py(p.box[3]), py(p.box[2])], range: p.yr, anchor: xa,
    tickvals: yTicks, title: {text: yTitles[i], font: {size: 15}, standoff: 2}});
  layout.annotations.push({xref: 'x' + s + ' domain', yref: 'y' + s + ' domain', x: 0.045, y: 0.895, xanchor: 'left', yanchor: 'middle',
    showarrow: false, font: {size: 14, color: '#1a1a1a'},
    text: '<i>R</i>² = ' + statR2[i] + ' , <i>p</i> &lt; ' + statP});
  layout.annotations.push({xref: 'x' + s + ' domain', yref: 'y' + s + ' domain', x: 0.045, y: 0.789, xanchor: 'left', yanchor: 'middle',
    showarrow: false, font: {size: 14, color: '#1a1a1a'},
    text: 'ρ = ' + statRho[i] + ', <i>p</i> &lt; ' + statP});
});

// section titles
[[sectionTitles[0], 772.5, 28], [sectionTitles[1], 775, 510]].forEach(t => layout.annotations.push({
  xref: 'paper', yref: 'paper', x: px(t[1]), y: py(t[2]), xanchor: 'center', yanchor: 'middle', showarrow: false,
  text: t[0], font: {family: 'DejaVu Sans', size: 35, weight: 700, color: '#4a86b4'}}));
// panel letters and titles
const letterPos = [[24, 75], [522, 75], [1002, 75], [24, 557], [522, 557], [1002, 557]];
const titlePos = [[283, 111], [774.5, 111], [1267, 111], [283, 594], [774.5, 594], [1267, 594]];
panelLetters.forEach((l, i) => {
  layout.annotations.push({xref: 'paper', yref: 'paper', x: px(letterPos[i][0]), y: py(letterPos[i][1]), xanchor: 'left', yanchor: 'middle',
    showarrow: false, text: l, font: {family: 'Lato, Open Sans, sans-serif', size: 33, weight: 700, color: '#2b4c6b'}});
  layout.annotations.push({xref: 'paper', yref: 'paper', x: px(titlePos[i][0]), y: py(titlePos[i][1]), xanchor: 'center', yanchor: 'middle',
    showarrow: false, text: panelTitles[i], font: {family: 'Open Sans, sans-serif', size: 23.8, weight: 700, color: '#2b4a68'}});
});

Plotly.newPlot('chart', traces, layout, {displayModeBar: false, staticPlot: true});
</script></body></html>
